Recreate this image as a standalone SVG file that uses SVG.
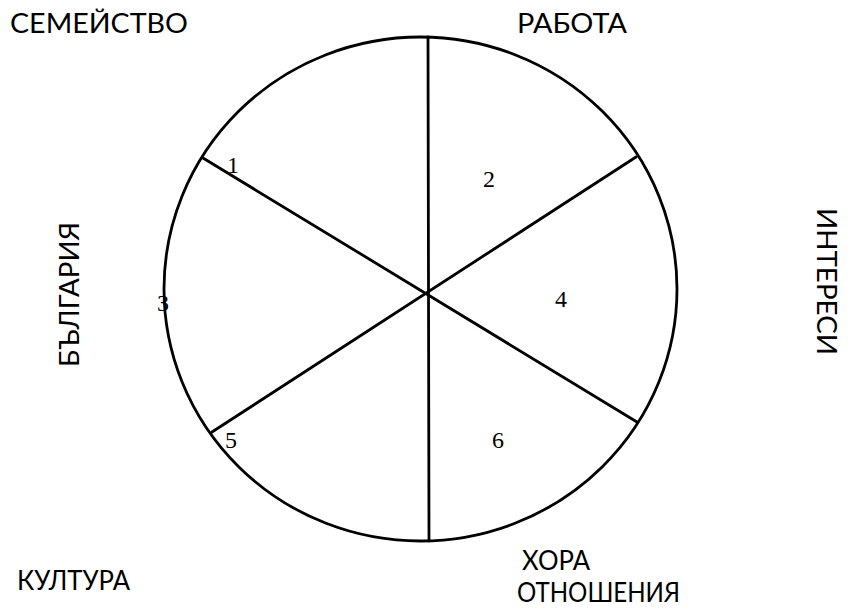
<svg xmlns="http://www.w3.org/2000/svg" width="848" height="609" viewBox="0 0 848 609">
<style>
.lbl{font-family:Lato,"Open Sans","Liberation Sans",sans-serif;font-size:27px;fill:#000}
.num{font-family:"Liberation Serif","Times New Roman",serif;font-size:24px;fill:#000}
.ln{stroke:#000;stroke-width:2.8;fill:none;stroke-linecap:round}
</style>
<rect width="848" height="609" fill="#fff"/>
<g id="wheel">
<ellipse class="ln" cx="420.5" cy="289" rx="256.5" ry="252"/>
</g>
<g id="connectors">
<line class="ln" x1="428" y1="37" x2="429" y2="541"/>
<line class="ln" x1="203" y1="158" x2="637" y2="422"/>
<line class="ln" x1="636" y1="157" x2="212" y2="432"/>
</g>
<g id="n1"><text class="num" x="227" y="173">1</text></g>
<g id="n2"><text class="num" x="483" y="187">2</text></g>
<g id="n3"><text class="num" x="157" y="311">3</text></g>
<g id="n4"><text class="num" x="555" y="307">4</text></g>
<g id="n5"><text class="num" x="225" y="448">5</text></g>
<g id="n6"><text class="num" x="492" y="448">6</text></g>
<g id="semeystvo"><text class="lbl" x="10" y="33" textLength="178" lengthAdjust="spacingAndGlyphs">СЕМЕЙСТВО</text></g>
<g id="rabota"><text class="lbl" x="517" y="33" textLength="110" lengthAdjust="spacingAndGlyphs">РАБОТА</text></g>
<g id="interesi"><text class="lbl" transform="translate(817,208) rotate(90)" textLength="147" lengthAdjust="spacingAndGlyphs">ИНТЕРЕСИ</text></g>
<g id="balgaria"><text class="lbl" transform="translate(79,367) rotate(-90)" textLength="145" lengthAdjust="spacingAndGlyphs">БЪЛГАРИЯ</text></g>
<g id="kultura"><text class="lbl" x="17" y="590" textLength="113" lengthAdjust="spacingAndGlyphs">КУЛТУРА</text></g>
<g id="hora"><text class="lbl" x="522" y="570" textLength="68" lengthAdjust="spacingAndGlyphs">ХОРА</text><text class="lbl" x="517" y="602" textLength="163" lengthAdjust="spacingAndGlyphs">ОТНОШЕНИЯ</text></g>
</svg>
